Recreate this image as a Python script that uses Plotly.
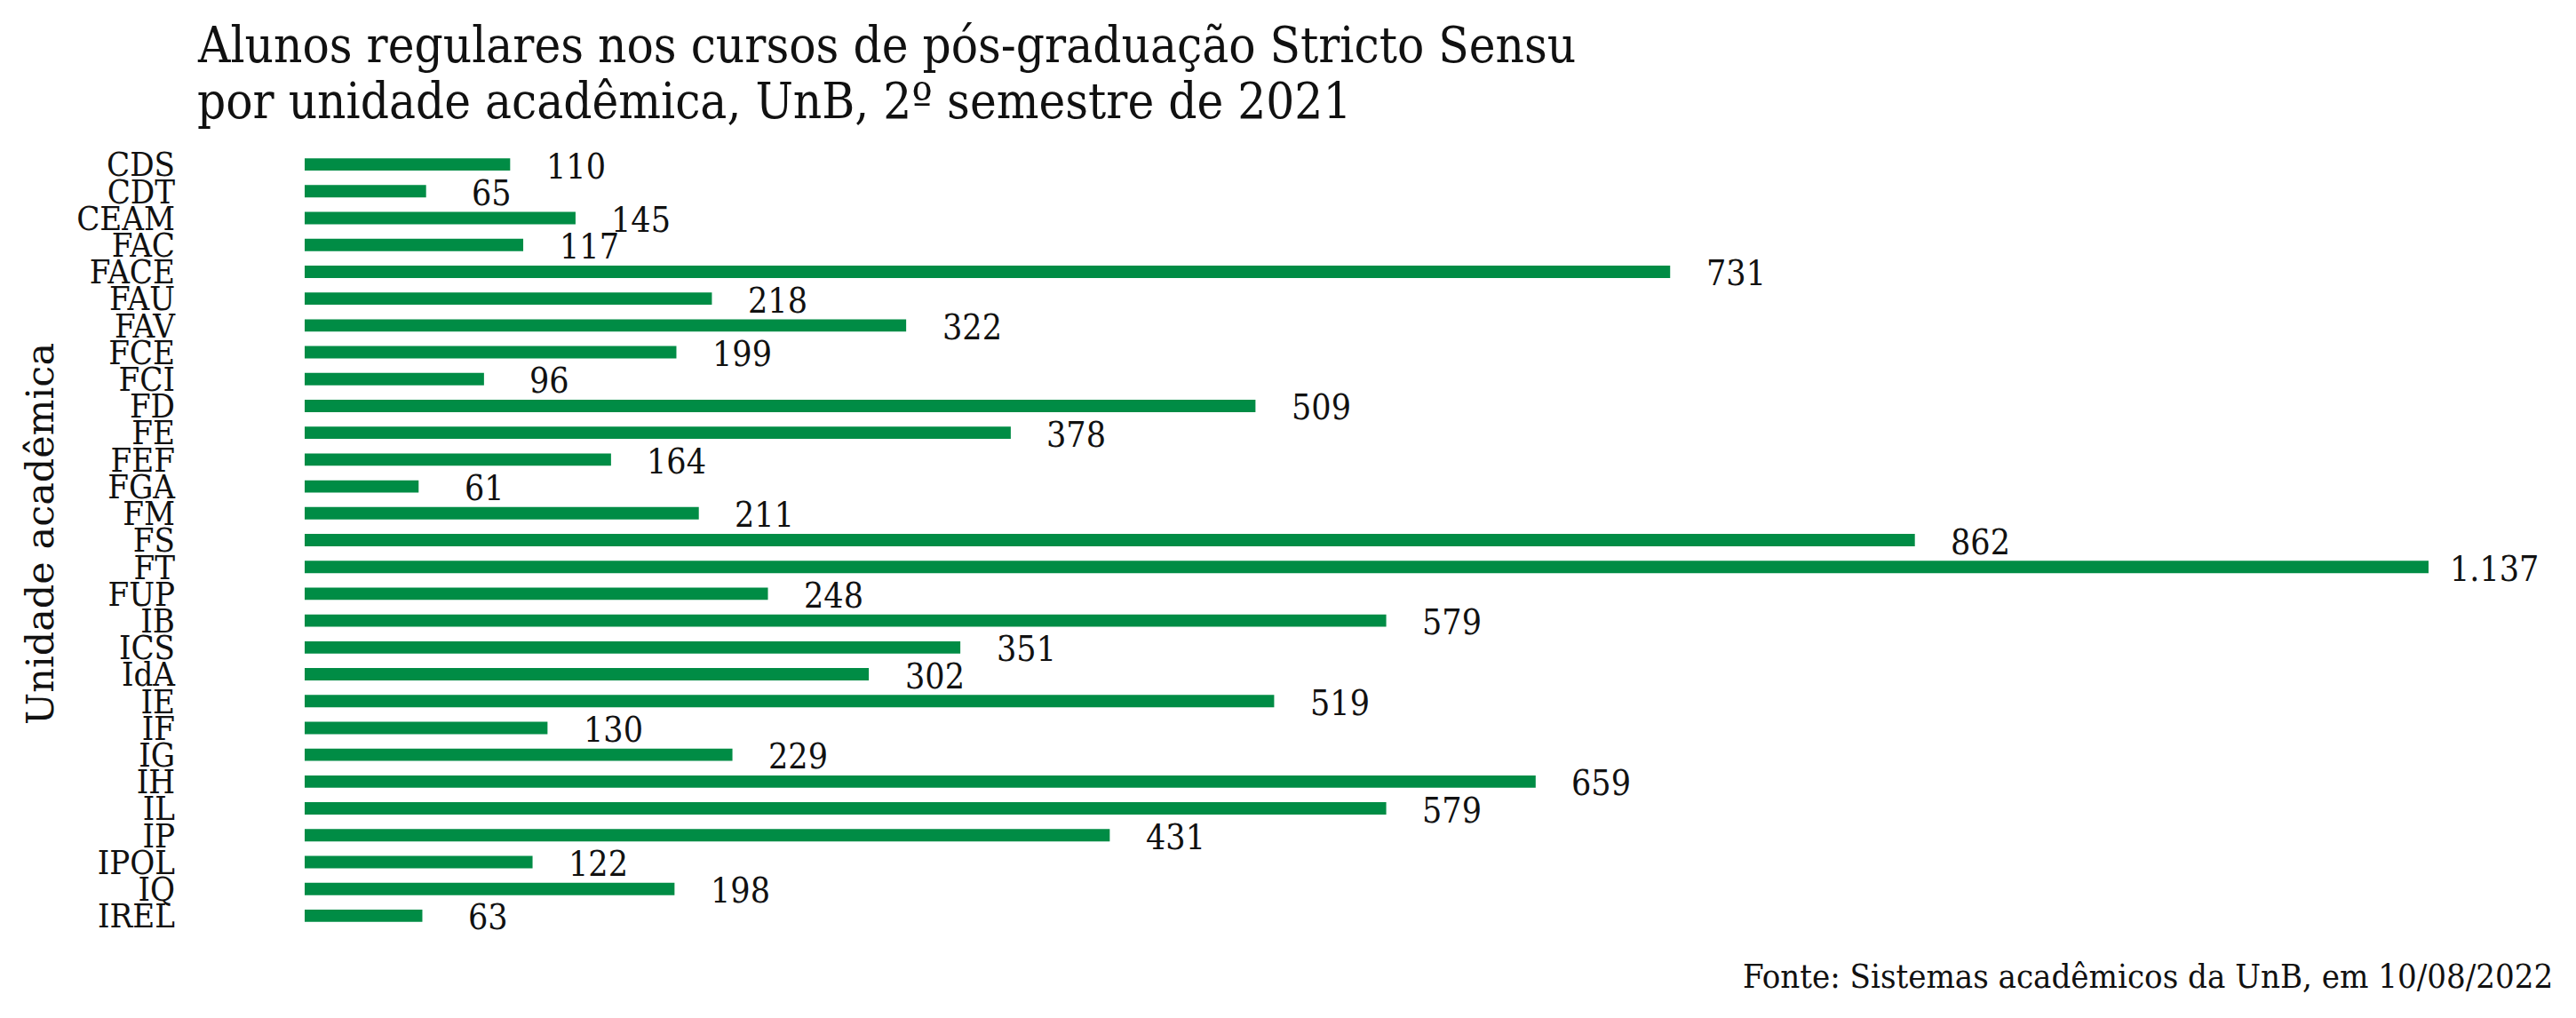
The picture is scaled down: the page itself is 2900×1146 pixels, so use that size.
import plotly.graph_objects as go

unidades = ["CDS", "CDT", "CEAM", "FAC", "FACE", "FAU", "FAV", "FCE", "FCI", "FD",
            "FE", "FEF", "FGA", "FM", "FS", "FT", "FUP", "IB", "ICS", "IdA",
            "IE", "IF", "IG", "IH", "IL", "IP", "IPOL", "IQ", "IREL"]
alunos = [110, 65, 145, 117, 731, 218, 322, 199, 96, 509,
          378, 164, 61, 211, 862, 1137, 248, 579, 351, 302,
          519, 130, 229, 659, 579, 431, 122, 198, 63]
titulo = ["Alunos regulares nos cursos de pós-graduação Stricto Sensu",
          "por unidade acadêmica, UnB, 2º semestre de 2021"]

def fmt(v):
    return f"{v:,}".replace(",", ".")

W, H = 2900, 1146
L, R, T, B = 335, 174, 162, 108
PW, PH = W - L - R, H - T - B
GREEN = "#008C45"
COND = "DejaVu Serif Condensed"
INK = "#111111"

def px_x(px):
    return (px - L) / PW

def px_y(py):
    return (H - B - py) / PH

fig = go.Figure()
fig.add_trace(go.Bar(
    x=alunos, y=unidades, orientation="h",
    marker=dict(color=GREEN, line=dict(width=0)),
    width=0.46, hoverinfo="x+y",
))

for u, v in zip(unidades, alunos):
    fig.add_annotation(x=v, y=u, text=fmt(v), showarrow=False,
                       xanchor="center", yanchor="middle", xshift=74, yshift=-2,
                       font=dict(family=COND, size=39, color=INK))

# title (two lines, tighter line spacing)
for i, line in enumerate(titulo):
    fig.add_annotation(xref="paper", yref="paper", x=px_x(212), y=px_y(43 + 62 * i),
                       xanchor="left", yanchor="middle", align="left", showarrow=False,
                       text=line, font=dict(family=COND, size=56, color=INK))

# y-axis title
fig.add_annotation(xref="paper", yref="paper", x=px_x(37), y=px_y(593),
                   xanchor="center", yanchor="middle", textangle=-90, showarrow=False,
                   text="Unidade acadêmica",
                   font=dict(family="DejaVu Serif", size=43, color=INK))

# source
fig.add_annotation(xref="paper", yref="paper", x=px_x(2868), y=px_y(1091),
                   xanchor="right", yanchor="middle", showarrow=False,
                   text="Fonte: Sistemas acadêmicos da UnB, em 10/08/2022",
                   font=dict(family=COND, size=38, color=INK))

fig.update_layout(
    width=W, height=H,
    paper_bgcolor="white", plot_bgcolor="white",
    margin=dict(l=L, r=R, t=T, b=B, autoexpand=False),
    showlegend=False,
    xaxis=dict(range=[0, 1137], visible=False, showgrid=False, zeroline=False,
               automargin=False),
    yaxis=dict(range=[len(unidades) - 0.5, -0.5], autorange=False,
               showgrid=False, zeroline=False, showline=False,
               automargin=False, tickmode="array", tickvals=unidades, ticktext=unidades,
               ticks="", ticklabelstandoff=145,
               tickfont=dict(family=COND, size=38, color=INK)),
)

fig.write_html("out.html")
